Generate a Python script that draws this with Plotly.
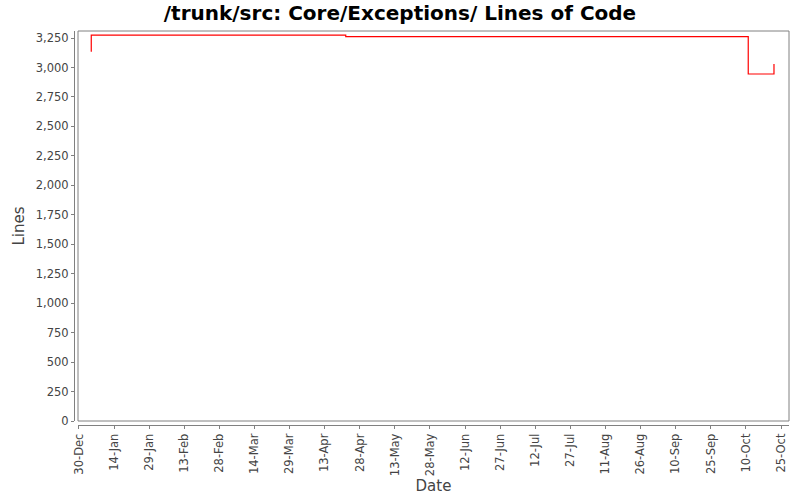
import pandas as pd
import plotly.graph_objects as go

# commit dates and line counts
dates = ["2008-01-04 00:00", "2008-01-04 06:00", "2008-04-22 00:00", "2008-10-11 00:00", "2008-10-22 00:00"]
lines = [3140, 3275, 3263, 2945, 3030]

tick_dates = pd.date_range("2007-12-30", periods=21, freq="15D")
tick_labels = [d.strftime("%d-%b") for d in tick_dates]

font = "DejaVu Sans, sans-serif"
grey = "#444444"

fig = go.Figure()
fig.add_trace(go.Scatter(
    x=pd.to_datetime(dates, format="%Y-%m-%d %H:%M"), y=lines, mode="lines",
    line=dict(color="#ff0000", width=1.2, shape="hv"),
    showlegend=False, hoverinfo="x+y",
))

# plot frame, a little inside the axis lines like JFreeChart
fig.add_shape(type="rect", xref="x domain", yref="y domain",
              x0=0, x1=1, y0=0, y1=1, line=dict(color="#808080", width=1))

fig.update_layout(
    width=800, height=500,
    margin=dict(l=74, r=11, t=31, b=75),
    paper_bgcolor="white", plot_bgcolor="white",
    font=dict(family=font, color=grey, size=11.5),
    title=dict(text="<b>/trunk/src: Core/Exceptions/ Lines of Code</b>",
               x=0.5, xanchor="center", y=0.974, yanchor="middle",
               automargin=False,
               font=dict(size=20, color="black", family=font)),
    xaxis=dict(
        domain=[4 / 715, 1], anchor="free", position=0, automargin=False,
        range=["2007-12-29 14:00", "2008-10-28 10:00"],
        tickvals=list(tick_dates), ticktext=tick_labels, tickangle=-90,
        showline=True, linecolor="#808080", linewidth=1,
        ticks="outside", ticklen=3, tickcolor="#808080",
        showgrid=False, zeroline=False,
        title=dict(text="Date", font=dict(size=15, color=grey), standoff=5),
    ),
    yaxis=dict(
        domain=[4 / 394, 1], anchor="free", position=0, automargin=False,
        range=[0, 3310], dtick=250, tickformat=",",
        showline=True, linecolor="#808080", linewidth=1,
        ticks="outside", ticklen=3, tickcolor="#808080",
        showgrid=False, zeroline=False,
        title=dict(text="Lines", font=dict(size=15, color=grey), standoff=6),
    ),
)

# drop the page's default body margin so the figure sits at 0,0
fig.write_html("out.html", config={"displayModeBar": False},
               post_script="document.body.style.margin='0';")
